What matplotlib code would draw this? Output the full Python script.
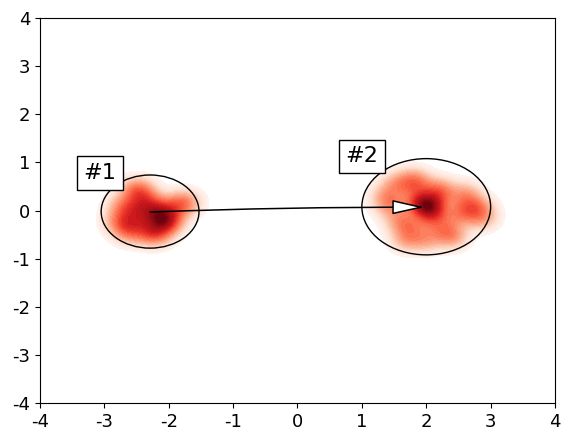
import matplotlib.pyplot as plt
import numpy as np
from matplotlib.patches import Ellipse

plt.rcParams['axes.unicode_minus'] = False

# sample points read from the two clouds
x1 = [-2.1, -2.05, -2.15, -2.0, -2.1, -2.45, -2.5, -2.35, -2.6, -2.65,
      -2.3, -2.75, -1.75, -1.85, -2.3, -2.55, -2.2, -2.7, -2.4]
y1 = [-0.1, -0.25, 0.05, -0.15, -0.3, 0.35, 0.45, 0.2, -0.45, -0.3,
      -0.45, -0.2, 0.18, 0.1, 0.0, 0.0, -0.5, 0.1, -0.2]
x2 = [1.95, 2.0, 2.05, 1.9, 2.1, 1.8, 1.85, 2.2, 2.6, 2.65, 2.5, 2.8,
      1.75, 1.6, 1.45, 1.4, 2.3, 2.4, 2.0, 1.7, 2.2, 2.85, 1.55, 2.1]
y2 = [0.15, 0.1, 0.05, 0.2, 0.0, 0.65, 0.5, 0.45, 0.35, 0.1, -0.1, 0.05,
      -0.35, -0.2, 0.1, 0.3, -0.4, -0.55, -0.6, -0.6, 0.3, -0.15, 0.55, -0.2]

ell_centers = [(-2.29, -0.02), (2.0, 0.08)]
ell_sizes = [1.52, 2.0]
labels = ['#1', '#2']
label_pos = [(-3.07, 0.78), (1.0, 1.13)]
ticks = [-4, -3, -2, -1, 0, 1, 2, 3, 4]

fig = plt.figure(figsize=(5.61, 4.32), dpi=100)
ax = fig.add_axes([0.0713, 0.067, 0.918, 0.891])

gx, gy = np.meshgrid(np.linspace(-4, 4, 500), np.linspace(-4, 4, 500))
bw = 0.17
for xs, ys in [(x1, y1), (x2, y2)]:
    z = np.zeros_like(gx)
    for px, py in zip(xs, ys):
        z += np.exp(-((gx - px) ** 2 + (gy - py) ** 2) / (2 * bw ** 2))
    z = (z / z.max()) ** 0.75
    levels = np.linspace(0.06, 1.0, 30)
    ax.contourf(gx, gy, z, levels=levels, cmap='Reds')

for (cx, cy), s in zip(ell_centers, ell_sizes):
    ax.add_patch(Ellipse((cx, cy), s, s, fc='none', ec='k', lw=1))

for lab, (lx, ly) in zip(labels, label_pos):
    ax.text(lx, ly, lab, fontsize=16, ha='center', va='center',
            bbox=dict(boxstyle='square,pad=0.3', fc='w', ec='k'))

ax.annotate('', xy=(1.97, 0.07), xytext=(-2.29, -0.03),
            arrowprops=dict(arrowstyle='-|>,head_length=2.0,head_width=0.45',
                            fc='w', ec='k', lw=1.1, shrinkA=0, shrinkB=0,
                            connectionstyle='arc3,rad=-0.01'))

ax.set_xlim(-4, 4)
ax.set_ylim(-4, 4)
ax.set_xticks(ticks)
ax.set_yticks(ticks)
ax.tick_params(labelsize=13)

plt.savefig('out.png')
